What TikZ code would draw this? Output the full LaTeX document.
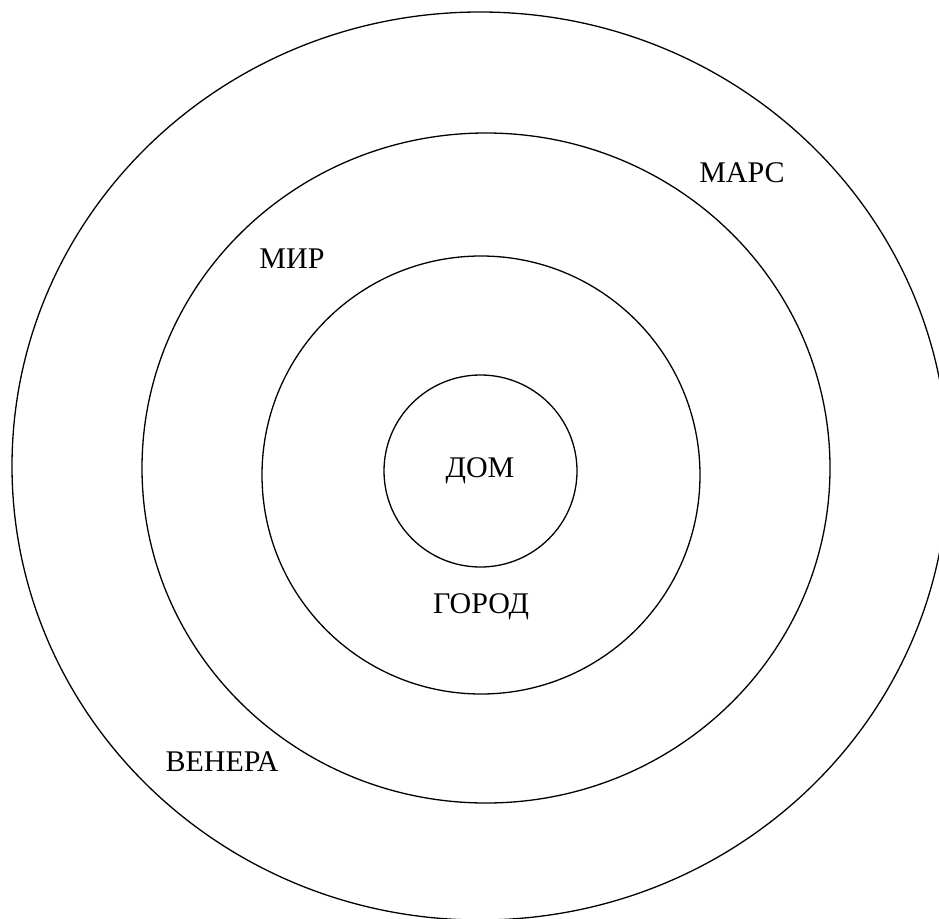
\documentclass[tikz,border=0pt]{standalone}
\usepackage{fontspec}
\setmainfont{Liberation Serif}
\begin{document}
\begin{tikzpicture}[x=1pt,y=-1pt,
  ring/.style={draw=black,line width=1.3pt},
  lbl/.style={font=\fontsize{30}{30}\selectfont,inner sep=0pt,anchor=base}]
\clip (0,0) rectangle (939,918);
\useasboundingbox (0,0) rectangle (939,918);
\draw[ring] (480,466) ellipse [x radius=468, y radius=454];
\draw[ring] (486,468) ellipse [x radius=344, y radius=335];
\draw[ring] (481,475) ellipse [x radius=219, y radius=219];
\draw[ring] (480.5,471) ellipse [x radius=96.5, y radius=96];
\node[lbl] (mars) at (742,182) {МАРС};
\node[lbl] (mir) at (292,268) {МИР};
\node[lbl] (dom) at (480,477) {ДОМ};
\node[lbl] (gorod) at (481,613) {ГОРОД};
\node[lbl] (venera) at (222,771) {ВЕНЕРА};
\end{tikzpicture}
\end{document}
